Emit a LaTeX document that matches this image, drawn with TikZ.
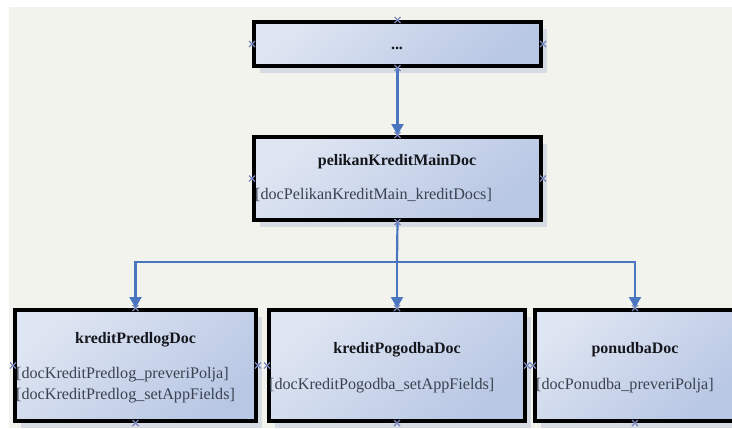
\documentclass[tikz,border=0pt]{standalone}
\usepackage{fontspec}
\setmainfont{Liberation Serif}
\usetikzlibrary{arrows.meta,shadows}
\definecolor{bgc}{HTML}{F3F3EE}
\definecolor{boxA}{HTML}{DEE5F2}
\definecolor{boxB}{HTML}{B8C7E4}
\definecolor{arrowc}{HTML}{4A76C0}
\definecolor{shadowc}{HTML}{D6DBE4}
\definecolor{markc}{HTML}{7A88BE}
\definecolor{subc}{HTML}{3A4250}
\definecolor{titc}{HTML}{15161C}
\tikzset{
  docbox/.style={rectangle, draw=black, line width=4bp, top color=boxA, bottom color=boxB, shading angle=40,
    inner sep=0pt, drop shadow={shadow xshift=6bp, shadow yshift=-7bp, fill=shadowc, opacity=1}},
  ttl/.style={anchor=base, inner sep=0pt, text=titc, font=\fontsize{16}{19}\selectfont\bfseries},
  sub/.style={anchor=base west, inner sep=0pt, text=subc, font=\fontsize{16.2}{21}\selectfont},
  conn/.style={draw=arrowc, line width=2.2bp},
  arr/.style={conn, -{Triangle[width=12bp,length=11bp]}},
  mk/.style={draw=markc, line width=1.1bp},
}
\begin{document}
\begin{tikzpicture}[x=1bp,y=-1bp]
\useasboundingbox (0,0) rectangle (732,428);
\clip (0,0) rectangle (732,428);
\fill[white] (0,0) rectangle (732,428);
\fill[bgc] (9,7) rectangle (732,428);

% boxes
\node[docbox, minimum width=287bp, minimum height=44bp] (top) at (397.5,44) {};
\node[docbox, minimum width=287bp, minimum height=83bp] (main) at (397.5,178.5) {};
\node[docbox, minimum width=241bp, minimum height=111bp] (b1) at (135.5,365.5) {};
\node[docbox, minimum width=256bp, minimum height=111bp] (b2) at (397,365.5) {};
\node[docbox, minimum width=200bp, minimum height=111bp] (b3) at (635,365.5) {};

% texts
\node[ttl] (topT) at (397,49) {...};
\node[ttl] (mainT) at (397,165) {pelikanKreditMainDoc};
\node[sub] (mainS) at (255,199) {[docPelikanKreditMain\_kreditDocs]};
\node[ttl] (b1T) at (135.5,343) {kreditPredlogDoc};
\node[sub] (b1S) at (16,378) {[docKreditPredlog\_preveriPolja]};
\node[sub] (b1S2) at (16,399) {[docKreditPredlog\_setAppFields]};
\node[ttl] (b2T) at (397,353) {kreditPogodbaDoc};
\node[sub] (b2S) at (269,389) {[docKreditPogodba\_setAppFields]};
\node[ttl] (b3T) at (635,353) {ponudbaDoc};
\node[sub] (b3S) at (536,389) {[docPonudba\_preveriPolja]};

% connectors
\coordinate (j) at (397,262);
\draw[arr] (top.south) -- (main.north);
\draw[conn] (main.south) -- (j);
\draw[arr] (j) -| (b1.north);
\draw[arr] (j) -| (b3.north);
\draw[arr] (j) -- (b2.north);

% connection point markers
\foreach \n in {top,main,b1,b2,b3}
  \foreach \a in {north,south,east,west}
    \draw[mk] ([shift={(-3,-3)}]\n.\a) -- ([shift={(3,3)}]\n.\a)
              ([shift={(-3,3)}]\n.\a) -- ([shift={(3,-3)}]\n.\a);
\end{tikzpicture}
\end{document}
